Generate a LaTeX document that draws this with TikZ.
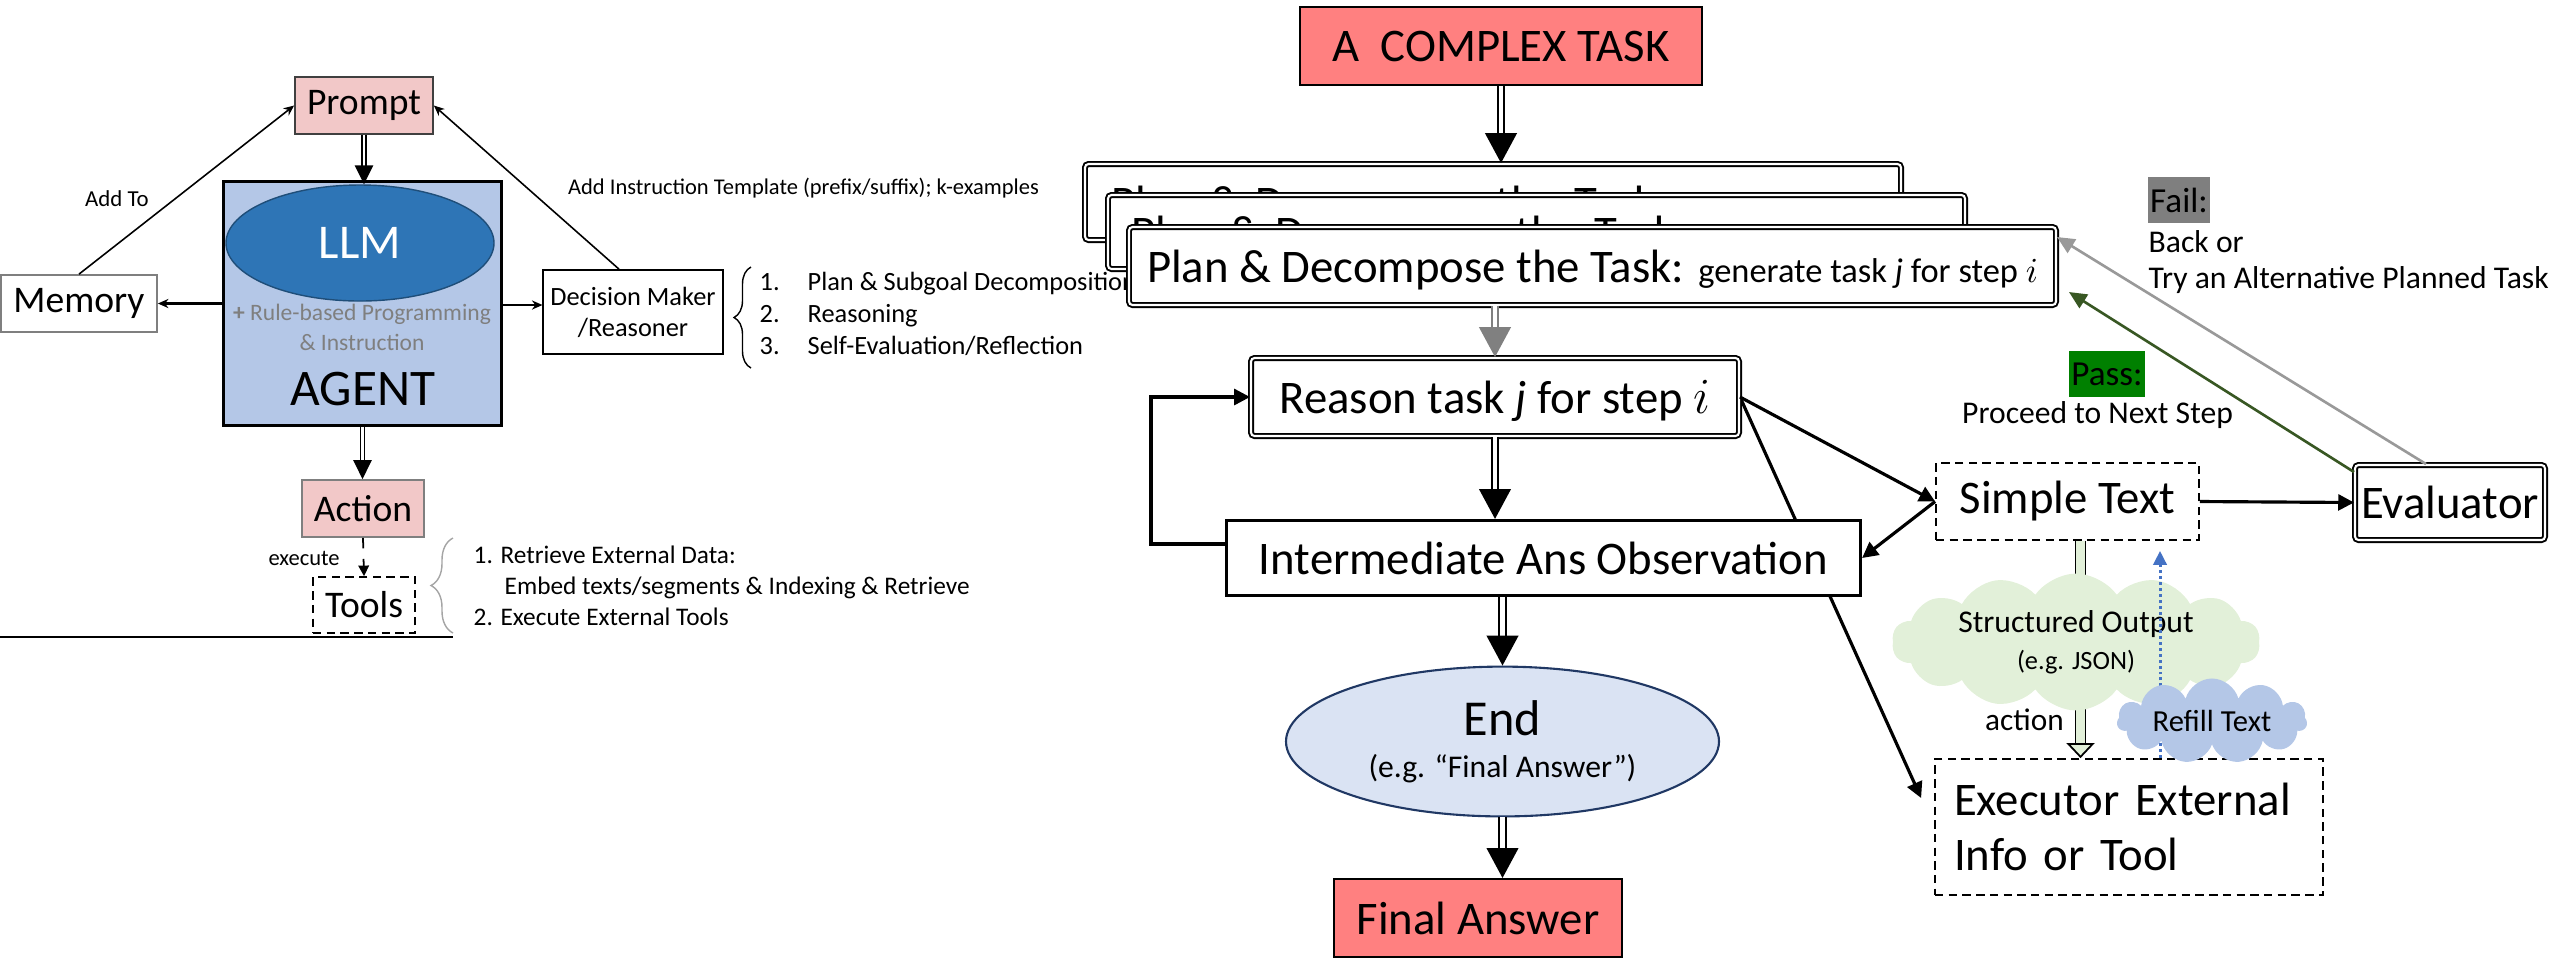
\documentclass[tikz,border=0pt]{standalone}
\usepackage{fontspec}
\setmainfont{Carlito}
\usetikzlibrary{arrows.meta,calc,shapes.geometric,shapes.symbols,decorations.pathreplacing,backgrounds}

\definecolor{taskred}{HTML}{FF8080}
\definecolor{promptpink}{HTML}{F2C8C8}
\definecolor{agentfill}{HTML}{B4C7E7}
\definecolor{llmfill}{HTML}{2E75B6}
\definecolor{llmline}{HTML}{1F4E79}
\definecolor{endfill}{HTML}{DAE3F3}
\definecolor{endline}{HTML}{203864}
\definecolor{outgreen}{HTML}{E2F0D9}
\definecolor{midgray}{HTML}{7F7F7F}
\definecolor{failline}{HTML}{999999}
\definecolor{passfill}{HTML}{008000}
\definecolor{passline}{HTML}{385723}
\definecolor{refillline}{HTML}{4472C4}

\tikzset{
  big/.style={font=\fontsize{13.3}{15.6}\selectfont},
  mid/.style={font=\fontsize{10.7}{13}\selectfont},
  note/.style={font=\fontsize{9}{10.8}\selectfont},
  box/.style={draw, rectangle, line width=0.5pt, inner sep=2pt},
  dblbox/.style={draw, rectangle, double, double distance=0.6pt, line width=0.55pt, rounded corners=1pt, fill=white, inner sep=2pt},
  planbox/.style={dblbox, big, text height=0.42cm, text depth=0.1cm},
  dashbox/.style={draw, rectangle, dash pattern=on 2.4pt off 1.5pt, line width=0.5pt, inner sep=2pt},
  dblarrow/.style={double, double distance=1.2pt, line width=0.55pt, -{Triangle[length=8.5pt,width=9pt]}},
  dblsmall/.style={double, double distance=0.8pt, line width=0.45pt, -{Triangle[length=5.4pt,width=5.2pt]}},
  thinarrow/.style={line width=0.45pt, -{Stealth[length=3pt,width=2.6pt]}},
  thickarrow/.style={line width=0.9pt, -{Triangle[length=4.5pt,width=4.5pt]}},
  hollowarrow/.style={double=outgreen, double distance=2.4pt, line width=0.5pt, -{Triangle[length=4.3pt,width=8pt,fill=outgreen,line width=0.5pt]}},
  refillarrow/.style={draw=refillline, line width=0.85pt, dash pattern=on 0.85pt off 0.85pt, -{Triangle[length=4pt,width=3.8pt]}},
  failarrow/.style={draw=failline, line width=0.75pt, -{Triangle[length=5pt,width=4.5pt]}},
  passarrow/.style={draw=passline, line width=0.75pt, -{Triangle[length=5pt,width=4.5pt]}},
}

\begin{document}
\begin{tikzpicture}[x=1cm,y=1cm]
\useasboundingbox (0,0) rectangle (25.57,-9.63);

% agent with its prompt, memory and tools
\node[box, draw=darkgray, fill=promptpink, mid, minimum width=1.38cm, minimum height=0.57cm] (prompt) at (3.64,-1.055) {Prompt};
\node[draw, line width=0.9pt, fill=agentfill, minimum width=2.78cm, minimum height=2.44cm] (agent) at (3.625,-3.035) {};
\node[ellipse, draw=llmline, line width=0.4pt, fill=llmfill, text=white, font=\fontsize{13.8}{16}\selectfont, minimum width=2.68cm, minimum height=1.16cm] (llm) at (3.60,-2.43) {LLM};
\node[text=midgray, align=center, font=\fontsize{6.7}{8.5}\selectfont] (rules) at (3.62,-3.27) {\textbf{+} Rule-based Programming\\\& Instruction};
\node[font=\fontsize{14.6}{17}\selectfont] (agentname) at (3.63,-3.89) {AGENT};
\node[box, draw=midgray, mid, minimum width=1.56cm, minimum height=0.57cm] (memory) at (0.79,-3.035) {Memory};
\node[box, align=center, font=\fontsize{7.5}{8.8}\selectfont, minimum width=1.72cm, minimum height=0.84cm] (decision) at (6.33,-3.12) {Decision Maker\\/Reasoner};
\node[box, draw=midgray, fill=promptpink, mid, minimum width=1.22cm, minimum height=0.57cm] (action) at (3.63,-5.085) {Action};
\node[dashbox, mid, minimum width=1.02cm, minimum height=0.56cm] (tools) at (3.64,-6.05) {Tools};

\node[font=\fontsize{6.5}{8}\selectfont] (addto) at (1.17,-1.99) {Add To};
\node[font=\fontsize{6.4}{8}\selectfont] (addtpl) at (8.035,-1.88) {Add Instruction Template (prefix/suffix); k-examples};
\node[font=\fontsize{6.4}{8}\selectfont, anchor=east] (exectxt) at (3.52,-5.58) {execute};

\node[anchor=west, align=left, inner sep=0pt, font=\fontsize{7.5}{9.1}\selectfont] (steps) at (7.59,-3.14)
  {\makebox[0.48cm][l]{1.}Plan \& Subgoal Decomposition\\
   \makebox[0.48cm][l]{2.}Reasoning\\
   \makebox[0.48cm][l]{3.}Self-Evaluation/Reflection};
\draw[line width=0.4pt, decorate, decoration={brace, amplitude=0.17cm}] (7.51,-3.68) -- (7.51,-2.67);

\node[anchor=west, align=left, inner sep=0pt, font=\fontsize{7.2}{8.9}\selectfont] (toolsteps) at (4.73,-5.86)
  {1. Retrieve External Data:\\
   \hspace*{0.31cm}Embed texts/segments \& Indexing \& Retrieve\\
   2. Execute External Tools};
\draw[midgray!70, line width=0.4pt, decorate, decoration={brace, amplitude=0.22cm}] (4.53,-6.33) -- (4.53,-5.38);
\draw[line width=0.5pt] (0,-6.37) -- (4.53,-6.37);

\draw[dblsmall] (prompt.south) -- (prompt.south |- llm.north);
\draw[thinarrow] (memory.north) -- (prompt.west);
\draw[thinarrow] ($(decision.north)+(-0.14,0)$) -- (prompt.east);
\draw[thinarrow, line width=0.7pt] (agent.west |- memory.east) -- (memory.east);
\draw[thinarrow, line width=0.6pt] ($(agent.east |- decision.west)+(0,0.07)$) -- ($(decision.west)+(0,0.07)$);
\draw[dblsmall] (agent.south) -- (agent.south |- action.north);
\draw[dashed, line width=0.5pt, -{Triangle[length=3pt,width=3pt]}] (action.south) -- (tools.north);

% task decomposition loop
\node[box, fill=taskred, big, line width=0.6pt, minimum width=4.02cm, minimum height=0.78cm] (complex) at (15.01,-0.46) {A\ \ COMPLEX TASK};
\node[planbox, minimum width=8.16cm, minimum height=0.76cm, text width=7.64cm, align=left] (planA) at (14.93,-2.02) {Plan \& Decompose the Task:};
\node[planbox, minimum width=8.57cm, minimum height=0.74cm, text width=8.11cm, align=left] (planB) at (15.365,-2.32) {Plan \& Decompose the Task:};
\node[planbox, minimum width=9.27cm, minimum height=0.78cm] (planC) at (15.925,-2.66) {Plan \& Decompose the Task: {\fontsize{9.8}{12}\selectfont generate task \emph{j} for step $i$}};
\node[dblbox, big, text height=0.42cm, text depth=0.09cm, minimum width=4.88cm, minimum height=0.78cm] (reason) at (14.95,-3.97) {Reason task \emph{j} for step $i$};
\node[box, big, fill=white, line width=0.9pt, minimum width=6.34cm, minimum height=0.75cm] (inter) at (15.435,-5.58) {Intermediate Ans Observation};
\node[ellipse, draw=endline, line width=0.6pt, fill=endfill, align=center, font=\fontsize{14.3}{12}\selectfont, minimum width=4.33cm, minimum height=1.13cm] (endnode) at (15.025,-7.415) {End\\{\fontsize{9}{11}\selectfont (e.g. “Final Answer”)}};
\node[box, fill=taskred, big, line width=0.6pt, minimum width=2.88cm, minimum height=0.78cm] (final) at (14.78,-9.18) {Final Answer};
\node[dashbox, big, minimum width=2.63cm, minimum height=0.77cm] (simple) at (20.675,-5.015) {Simple Text};
\node[dblbox, big, inner xsep=0pt, minimum width=1.90cm, minimum height=0.75cm] (evaluator) at (24.50,-5.025) {Evaluator};
\node[dashbox, big, align=left, text width=3.5cm, minimum width=3.88cm, minimum height=1.36cm] (executor) at (21.29,-8.27) {Executor External\\Info or Tool};

\node[fill=midgray, inner sep=0pt, font=\fontsize{10}{12}\selectfont, minimum width=0.62cm, minimum height=0.46cm] (fail) at (21.79,-2.00) {Fail:};
\node[note, anchor=base west, inner sep=0pt] (back) at (21.48,-2.52) {Back or};
\node[note, anchor=base west, inner sep=0pt] (retry) at (21.48,-2.88) {Try an Alternative Planned Task};
\node[fill=passfill, inner sep=0pt, font=\fontsize{10}{12}\selectfont, minimum width=0.76cm, minimum height=0.46cm] (pass) at (21.07,-3.74) {Pass:};
\node[note, anchor=base, inner sep=0pt] (proceed) at (20.975,-4.23) {Proceed to Next Step};

\draw[hollowarrow] ($(simple.south)+(0.13,0)$) -- ($(simple.south |- executor.north)+(0.13,0)$);
\node[cloud, cloud puffs=14, cloud puff arc=110, aspect=3.3, fill=outgreen, align=center, font=\fontsize{9}{10.5}\selectfont, minimum width=3.68cm, minimum height=1.10cm, inner sep=0pt] (structured) at (20.76,-6.42) {Structured Output\\{\fontsize{7.5}{9}\selectfont (e.g. JSON)}};
\draw[refillarrow] ($(executor.north)+(0.31,0)$) -- ($(executor.north |- simple.south)+(0.31,-0.1)$);
\node[cloud, cloud puffs=11, aspect=3.3, fill=agentfill, font=\fontsize{8.7}{10}\selectfont, minimum width=1.90cm, minimum height=0.58cm, inner sep=0pt] (refill) at (22.12,-7.21) {Refill Text};
\node[font=\fontsize{8.9}{10}\selectfont, anchor=east, inner sep=1pt] (actionlbl) at (20.68,-7.20) {action};

\draw[dblarrow] (complex.south) -- (complex.south |- planA.north);
\draw[dblarrow, draw=gray] (reason.north |- planC.south) -- (reason.north);
\draw[dblarrow] (reason.south) -- (reason.south |- inter.north);
\draw[thickarrow] ($(inter.west)+(0,0.14)$) -- ++(-0.74,0) |- (reason.west);
\draw[thickarrow] (reason.east) -- (simple.west);
\draw[thickarrow] (simple.west) -- (inter.east);
\draw[thickarrow] (simple.east) -- (evaluator.west);
\draw[dblarrow] (endnode.north |- inter.south) -- (endnode.north);
\draw[dblarrow] (endnode.south) -- (endnode.south |- final.north);
\draw[failarrow] ($(evaluator.north)+(-0.24,0)$) -- ($(planC.east)+(0,0.29)$);
\draw[passarrow] ($(evaluator.north west)+(0,-0.08)$) -- ($(planC.east)+(0.12,-0.26)$);
\begin{pgfonlayer}{background}
\draw[thickarrow] (reason.east) -- ($(executor.west)+(-0.13,0.29)$);
\end{pgfonlayer}
\end{tikzpicture}
\end{document}
